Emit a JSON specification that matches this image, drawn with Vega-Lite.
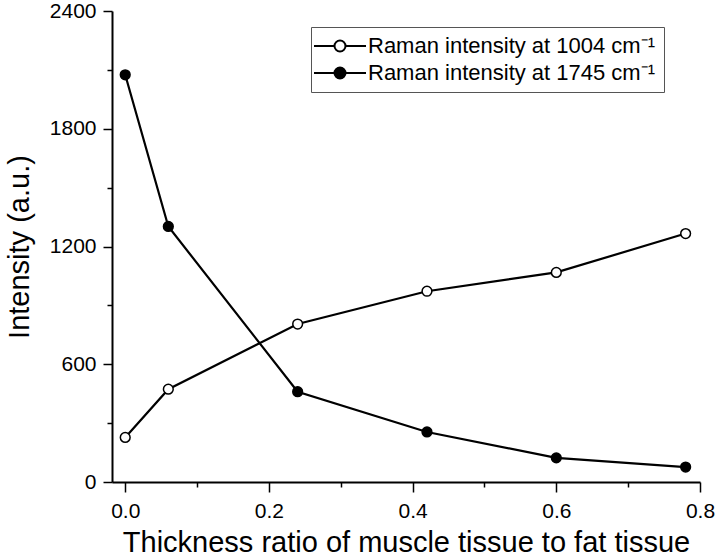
{
  "$schema": "https://vega.github.io/schema/vega-lite/v6.json",
  "width": 588,
  "height": 471,
  "autosize": {"type": "none"},
  "padding": {"left": 112, "top": 11, "right": 16, "bottom": 76},
  "config": {
    "font": "Liberation Sans",
    "view": {"stroke": null},
    "axis": {
      "grid": false,
      "domainColor": "black",
      "domainWidth": 2,
      "tickColor": "black",
      "tickWidth": 1.5,
      "labelColor": "black",
      "labelFontSize": 21,
      "titleColor": "black",
      "titleFontSize": 29,
      "titleFontWeight": "normal"
    }
  },
  "data": {
    "values": [
      {"ratio": 0.0, "intensity": 227, "series": "Raman intensity at 1004 cm⁻¹"},
      {"ratio": 0.06, "intensity": 473, "series": "Raman intensity at 1004 cm⁻¹"},
      {"ratio": 0.24, "intensity": 805, "series": "Raman intensity at 1004 cm⁻¹"},
      {"ratio": 0.42, "intensity": 972, "series": "Raman intensity at 1004 cm⁻¹"},
      {"ratio": 0.6, "intensity": 1068, "series": "Raman intensity at 1004 cm⁻¹"},
      {"ratio": 0.78, "intensity": 1266, "series": "Raman intensity at 1004 cm⁻¹"},
      {"ratio": 0.0, "intensity": 2075, "series": "Raman intensity at 1745 cm⁻¹"},
      {"ratio": 0.06, "intensity": 1302, "series": "Raman intensity at 1745 cm⁻¹"},
      {"ratio": 0.24, "intensity": 460, "series": "Raman intensity at 1745 cm⁻¹"},
      {"ratio": 0.42, "intensity": 255, "series": "Raman intensity at 1745 cm⁻¹"},
      {"ratio": 0.6, "intensity": 123, "series": "Raman intensity at 1745 cm⁻¹"},
      {"ratio": 0.78, "intensity": 76, "series": "Raman intensity at 1745 cm⁻¹"}
    ]
  },
  "resolve": {"axis": {"x": "independent", "y": "independent"}},
  "layer": [
    {
      "mark": {"type": "line", "color": "black", "strokeWidth": 2.2},
      "encoding": {
        "x": {
          "field": "ratio",
          "type": "quantitative",
          "scale": {"domain": [-0.0184, 0.8], "nice": false, "zero": false},
          "axis": {"orient": "bottom", "title": null, "values": [0.1, 0.3, 0.5, 0.7], "labels": false, "domain": false, "tickSize": 5}
        },
        "y": {
          "field": "intensity",
          "type": "quantitative",
          "scale": {"domain": [0, 2400], "nice": false},
          "axis": {"orient": "left", "title": null, "values": [300, 900, 1500, 2100], "labels": false, "domain": false, "tickSize": 5}
        },
        "detail": {"field": "series"}
      }
    },
    {
      "mark": {"type": "point", "shape": "circle", "size": 95, "filled": true, "stroke": "black", "strokeWidth": 1.5, "opacity": 1},
      "encoding": {
        "x": {
          "field": "ratio",
          "type": "quantitative",
          "axis": {
            "orient": "bottom",
            "title": "Thickness ratio of muscle tissue to fat tissue",
            "values": [0, 0.2, 0.4, 0.6, 0.8],
            "format": ".1f",
            "tickSize": 10,
            "labelPadding": 8,
            "titlePadding": 7,
            "labelFlush": false,
            "labelLimit": 0
          }
        },
        "y": {
          "field": "intensity",
          "type": "quantitative",
          "axis": {
            "orient": "left",
            "title": "Intensity (a.u.)",
            "values": [0, 600, 1200, 1800, 2400],
            "format": "d",
            "tickSize": 9,
            "labelPadding": 7,
            "titlePadding": 15,
            "labelFlush": false,
            "labelLimit": 0
          }
        },
        "fill": {
          "field": "series",
          "type": "nominal",
          "scale": {"domain": ["Raman intensity at 1004 cm⁻¹", "Raman intensity at 1745 cm⁻¹"], "range": ["white", "black"]},
          "legend": {
            "title": null,
            "orient": "none",
            "legendX": 199,
            "legendY": 16,
            "padding": 8,
            "strokeColor": "#555",
            "fillColor": "white",
            "labelFontSize": 22,
            "labelColor": "black",
            "labelFont": "Liberation Sans",
            "labelLimit": 0,
            "symbolType": "M-5.2,0H-1.1M1.1,0H5.2M1.1,0A1.1,1.1 0 1 1 -1.1,0A1.1,1.1 0 1 1 1.1,0Z",
            "symbolSize": 100,
            "symbolStrokeColor": "black",
            "symbolStrokeWidth": 2,
            "symbolOffset": 10,
            "labelOffset": 17,
            "rowPadding": 5
          }
        }
      }
    }
  ]
}
